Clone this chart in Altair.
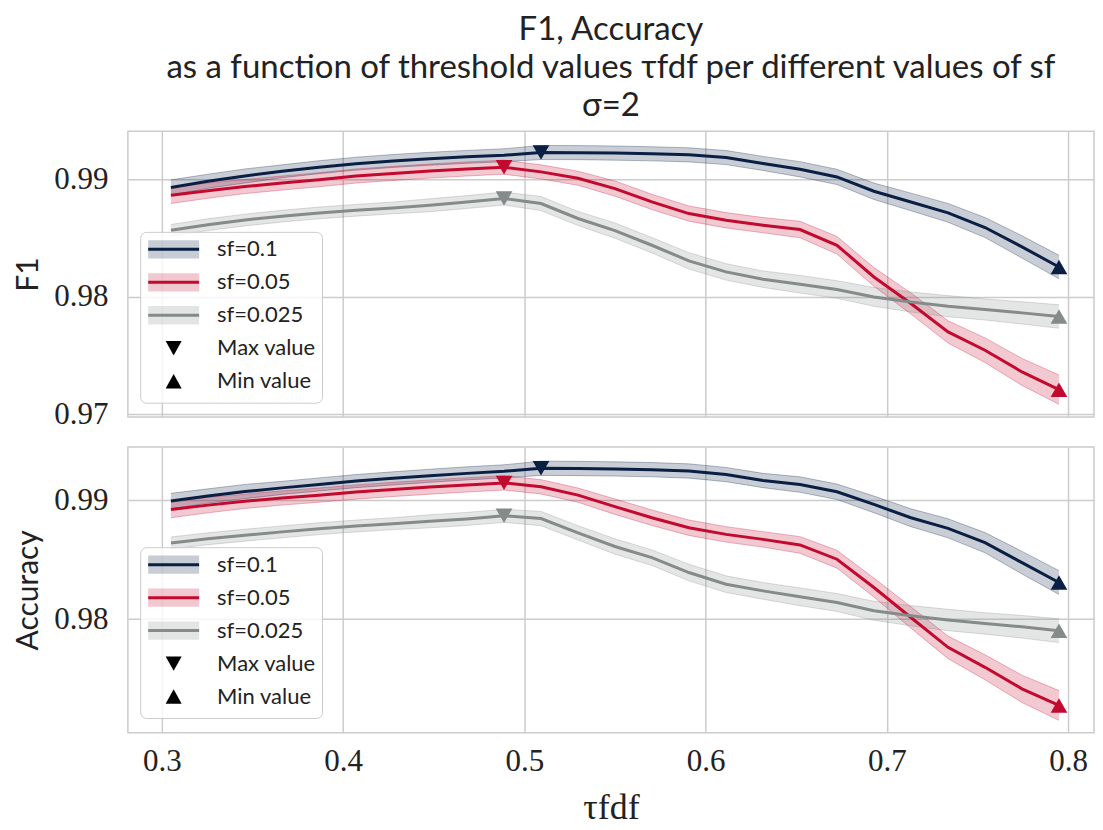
import altair as alt
import pandas as pd

# ---------------- data ----------------
tau = [0.3050, 0.3254, 0.3458, 0.3663, 0.3867, 0.4071, 0.4275, 0.4479, 0.4683,
       0.4888, 0.5092, 0.5296, 0.5500, 0.5704, 0.5908, 0.6113, 0.6317, 0.6521,
       0.6725, 0.6929, 0.7133, 0.7338, 0.7542, 0.7746, 0.7950]

series_names = ["sf=0.1", "sf=0.05", "sf=0.025"]
marker_names = ["Max value", "Min value"]

f1_s010 = [0.98932, 0.98985, 0.99030, 0.99070, 0.99105, 0.99135, 0.99158, 0.99177, 0.99193,
           0.99207, 0.99230, 0.99229, 0.99225, 0.99219, 0.99210, 0.99187, 0.99137, 0.99087,
           0.99022, 0.98900, 0.98809, 0.98716, 0.98591, 0.98426, 0.98255]
f1_s005 = [0.98866, 0.98905, 0.98940, 0.98970, 0.98998, 0.99030, 0.99052, 0.99072, 0.99090,
           0.99105, 0.99065, 0.99011, 0.98923, 0.98809, 0.98710, 0.98653, 0.98611, 0.98574,
           0.98440, 0.98170, 0.97944, 0.97702, 0.97546, 0.97361, 0.97210]
f1_s0025 = [0.98567, 0.98615, 0.98655, 0.98688, 0.98715, 0.98738, 0.98758, 0.98781, 0.98808,
            0.98838, 0.98795, 0.98668, 0.98565, 0.98440, 0.98307, 0.98213, 0.98151, 0.98108,
            0.98063, 0.98000, 0.97957, 0.97921, 0.97893, 0.97864, 0.97833]

acc_s010 = [0.98992, 0.99035, 0.99072, 0.99103, 0.99132, 0.99160, 0.99183, 0.99205, 0.99225,
            0.99242, 0.99268, 0.99266, 0.99262, 0.99256, 0.99245, 0.99215, 0.99165, 0.99131,
            0.99070, 0.98964, 0.98852, 0.98763, 0.98642, 0.98474, 0.98307]
acc_s005 = [0.98922, 0.98958, 0.98990, 0.99018, 0.99042, 0.99068, 0.99090, 0.99110, 0.99128,
            0.99145, 0.99112, 0.99042, 0.98945, 0.98852, 0.98768, 0.98712, 0.98670, 0.98623,
            0.98503, 0.98265, 0.98013, 0.97762, 0.97594, 0.97413, 0.97273]
acc_s0025 = [0.98640, 0.98675, 0.98705, 0.98733, 0.98760, 0.98782, 0.98802, 0.98822, 0.98842,
             0.98868, 0.98845, 0.98725, 0.98610, 0.98516, 0.98391, 0.98293, 0.98237, 0.98187,
             0.98139, 0.98070, 0.98028, 0.97992, 0.97963, 0.97935, 0.97902]

# half-width of the shaded band, in units of 1e-4
ci_s010 = [6.5, 6, 6, 5.5, 5.5, 5.5, 5.5, 5.5, 5.5, 5.5, 6, 6, 6, 6, 6, 6, 6, 6.5, 6.5, 7,
           7.5, 8, 8.5, 9.5, 10]
ci_s005 = [7, 6.5, 6, 6, 6, 6, 6, 6, 6, 6, 6, 6, 6.5, 6.5, 6.5, 6.5, 6.5, 7, 7.5, 8, 9,
           9.5, 10.5, 11.5, 12.5]
ci_s0025 = [5, 5, 5, 5, 5, 5, 5, 5.5, 5.5, 5.5, 6, 6, 6.5, 6.5, 7, 7, 7, 7.5, 7.5, 8, 8.5,
            9, 9, 9.5, 10]

x_ticks = [0.3, 0.4, 0.5, 0.6, 0.7, 0.8]

colors = ["#0a1f44", "#c20a2f", "#858b8a"]

# ---------------- helpers ----------------
def make_df(values_list):
    rows = []
    for name, vals, ci in zip(series_names, values_list, [ci_s010, ci_s005, ci_s0025]):
        imax = vals.index(max(vals))
        imin = vals.index(min(vals))
        for i, (t, v, c) in enumerate(zip(tau, vals, ci)):
            ext = "Max value" if i == imax else ("Min value" if i == imin else "")
            rows.append(dict(tau=t, series=name, value=v,
                             lo=v - c * 1e-4, hi=v + c * 1e-4, ext=ext))
    return pd.DataFrame(rows)


# legend symbol paths (unit = 10 px, symbolSize 400); every path shares the same
# bounding box (via move-to points) so that all legend rows get the same height
RECT = "M-2.55,-0.92H2.55V0.92H-2.55Z"
LINE = "M-2.55,-0.92M-2.55,0H2.55M2.55,0.92"
TRI_DOWN = "M-2.55,-0.92M-0.8,-0.72L0.8,-0.72L0,0.72ZM2.55,0.92"
TRI_UP = "M-2.55,-0.92M-0.8,0.72L0.8,0.72L0,-0.72ZM2.55,0.92"

LEG_FONT = 22
LEG_ROWPAD = 2
LEG_PAD = 6
LEG_SYMOFF = 16
LEG_LABOFF = 32
LEG_SIZE = 400

SHAPE_EXPR = ("datum.value === 'Max value' ? '%s' : (datum.value === 'Min value' ? '%s' : '%s')"
              % (TRI_DOWN, TRI_UP, RECT))
OPAC_EXPR = "(datum.value === 'Max value' || datum.value === 'Min value') ? 1 : 0.22"

# the line legend gets placeholder rows (hidden) so that its frame spans all five rows
hidden_rows = ["Max value ", "Min value "]


def panel(df, ytitle, ydomain, yticks, show_x, leg_x, leg_y, title=None):
    if show_x:
        xaxis = alt.Axis(values=x_ticks, format=".1f", title="τfdf",
                         labelPadding=14, titleFont="Liberation Serif",
                         titleFontSize=36, titlePadding=14)
    else:
        xaxis = alt.Axis(values=x_ticks, labels=False, title=None,
                         minExtent=0, maxExtent=0)
    x = alt.X("tau:Q", scale=alt.Scale(domain=[0.28126, 0.81433], nice=False, zero=False),
              axis=xaxis)
    yscale = alt.Scale(domain=ydomain, nice=False, zero=False)
    yaxis = alt.Axis(values=yticks, format=".2f", title=ytitle, labelPadding=20,
                     titlePadding=10)

    fill_scale = alt.Scale(domain=series_names + marker_names,
                           range=colors + ["#000000", "#000000"])
    stroke_scale = alt.Scale(domain=series_names + hidden_rows,
                             range=colors + ["transparent", "transparent"])
    color_scale = alt.Scale(domain=series_names, range=colors)

    # upper legend layer: bands, triangles and labels (no background)
    fill_legend = alt.Legend(
        orient="none", legendX=leg_x, legendY=leg_y, title=None,
        direction="vertical", columns=1,
        symbolSize=LEG_SIZE, symbolStrokeWidth=3, symbolOffset=LEG_SYMOFF,
        symbolType=alt.ExprRef(expr=SHAPE_EXPR),
        symbolOpacity=alt.ExprRef(expr=OPAC_EXPR),
        symbolStrokeColor="transparent",
        labelFont="Lato", labelFontSize=LEG_FONT, labelColor="#222222",
        labelOffset=LEG_LABOFF, rowPadding=LEG_ROWPAD, padding=LEG_PAD,
        zindex=2,
    )
    # lower legend layer: frame, background and the solid lines
    stroke_legend = alt.Legend(
        orient="none", legendX=leg_x, legendY=leg_y, title=None,
        direction="vertical", columns=1,
        symbolType=LINE, symbolSize=LEG_SIZE, symbolStrokeWidth=3,
        symbolOffset=LEG_SYMOFF, symbolFillColor="transparent",
        labelFont="Lato", labelFontSize=LEG_FONT, labelColor="rgba(0,0,0,0)",
        labelOffset=LEG_LABOFF, rowPadding=LEG_ROWPAD, padding=LEG_PAD,
        fillColor="rgba(255,255,255,0.8)", strokeColor="#cccccc", cornerRadius=6,
        zindex=1,
    )

    base = alt.Chart(df)
    band = base.mark_area(fillOpacity=0.22).encode(
        x=x,
        y=alt.Y("lo:Q", scale=yscale, axis=yaxis),
        y2="hi:Q",
        fill=alt.Fill("series:N", scale=fill_scale, legend=fill_legend),
    )
    edge_lo = base.mark_line(strokeWidth=1, opacity=0.3).encode(
        x=x, y=alt.Y("lo:Q", scale=yscale),
        color=alt.Color("series:N", scale=color_scale, legend=None),
    )
    edge_hi = base.mark_line(strokeWidth=1, opacity=0.3).encode(
        x=x, y=alt.Y("hi:Q", scale=yscale),
        color=alt.Color("series:N", scale=color_scale, legend=None),
    )
    line = base.mark_line(strokeWidth=3).encode(
        x=x, y=alt.Y("value:Q", scale=yscale),
        stroke=alt.Stroke("series:N", scale=stroke_scale, legend=stroke_legend),
    )
    pmax = base.transform_filter("datum.ext === 'Max value'").mark_point(
        shape="triangle-down", filled=True, size=280, opacity=1).encode(
        x=x, y=alt.Y("value:Q", scale=yscale),
        color=alt.Color("series:N", scale=color_scale, legend=None),
    )
    pmin = base.transform_filter("datum.ext === 'Min value'").mark_point(
        shape="triangle-up", filled=True, size=280, opacity=1).encode(
        x=x, y=alt.Y("value:Q", scale=yscale),
        color=alt.Color("series:N", scale=color_scale, legend=None),
    )
    props = dict(width=967, height=286)
    if title is not None:
        props["title"] = title
    return alt.layer(band, edge_lo, edge_hi, line, pmax, pmin).properties(**props)


title = alt.TitleParams(
    text=["F1, Accuracy",
          "as a function of threshold values τfdf per different values of sf",
          "σ=2"],
    font="Lato", fontSize=33, lineHeight=38, fontWeight="normal",
    color="#222222", anchor="middle", offset=8,
)

top = panel(make_df([f1_s010, f1_s005, f1_s0025]), "F1",
            [0.96977, 0.99411], [0.97, 0.98, 0.99], False, 12.3, 100.7, title)
bottom = panel(make_df([acc_s010, acc_s005, acc_s0025]), "Accuracy",
               [0.97044, 0.99447], [0.98, 0.99], True, 12.3, 100.3)

chart = alt.vconcat(top, bottom, spacing=15).resolve_scale(
    fill="independent", stroke="independent", color="independent",
    x="independent", y="independent",
).properties(
    padding={"left": 5, "top": 5, "right": 0, "bottom": 5}
).configure_view(
    stroke="#cccccc", strokeWidth=1.5
).configure_axis(
    gridColor="#cccccc", gridWidth=1.5, domain=False, ticks=False,
    labelFont="Liberation Serif", labelFontSize=31, labelColor="#222222",
    titleFont="Lato", titleFontSize=30, titleFontWeight="normal", titleColor="#222222",
)

chart.save("out.html", embed_options={"renderer": "svg", "actions": False})
